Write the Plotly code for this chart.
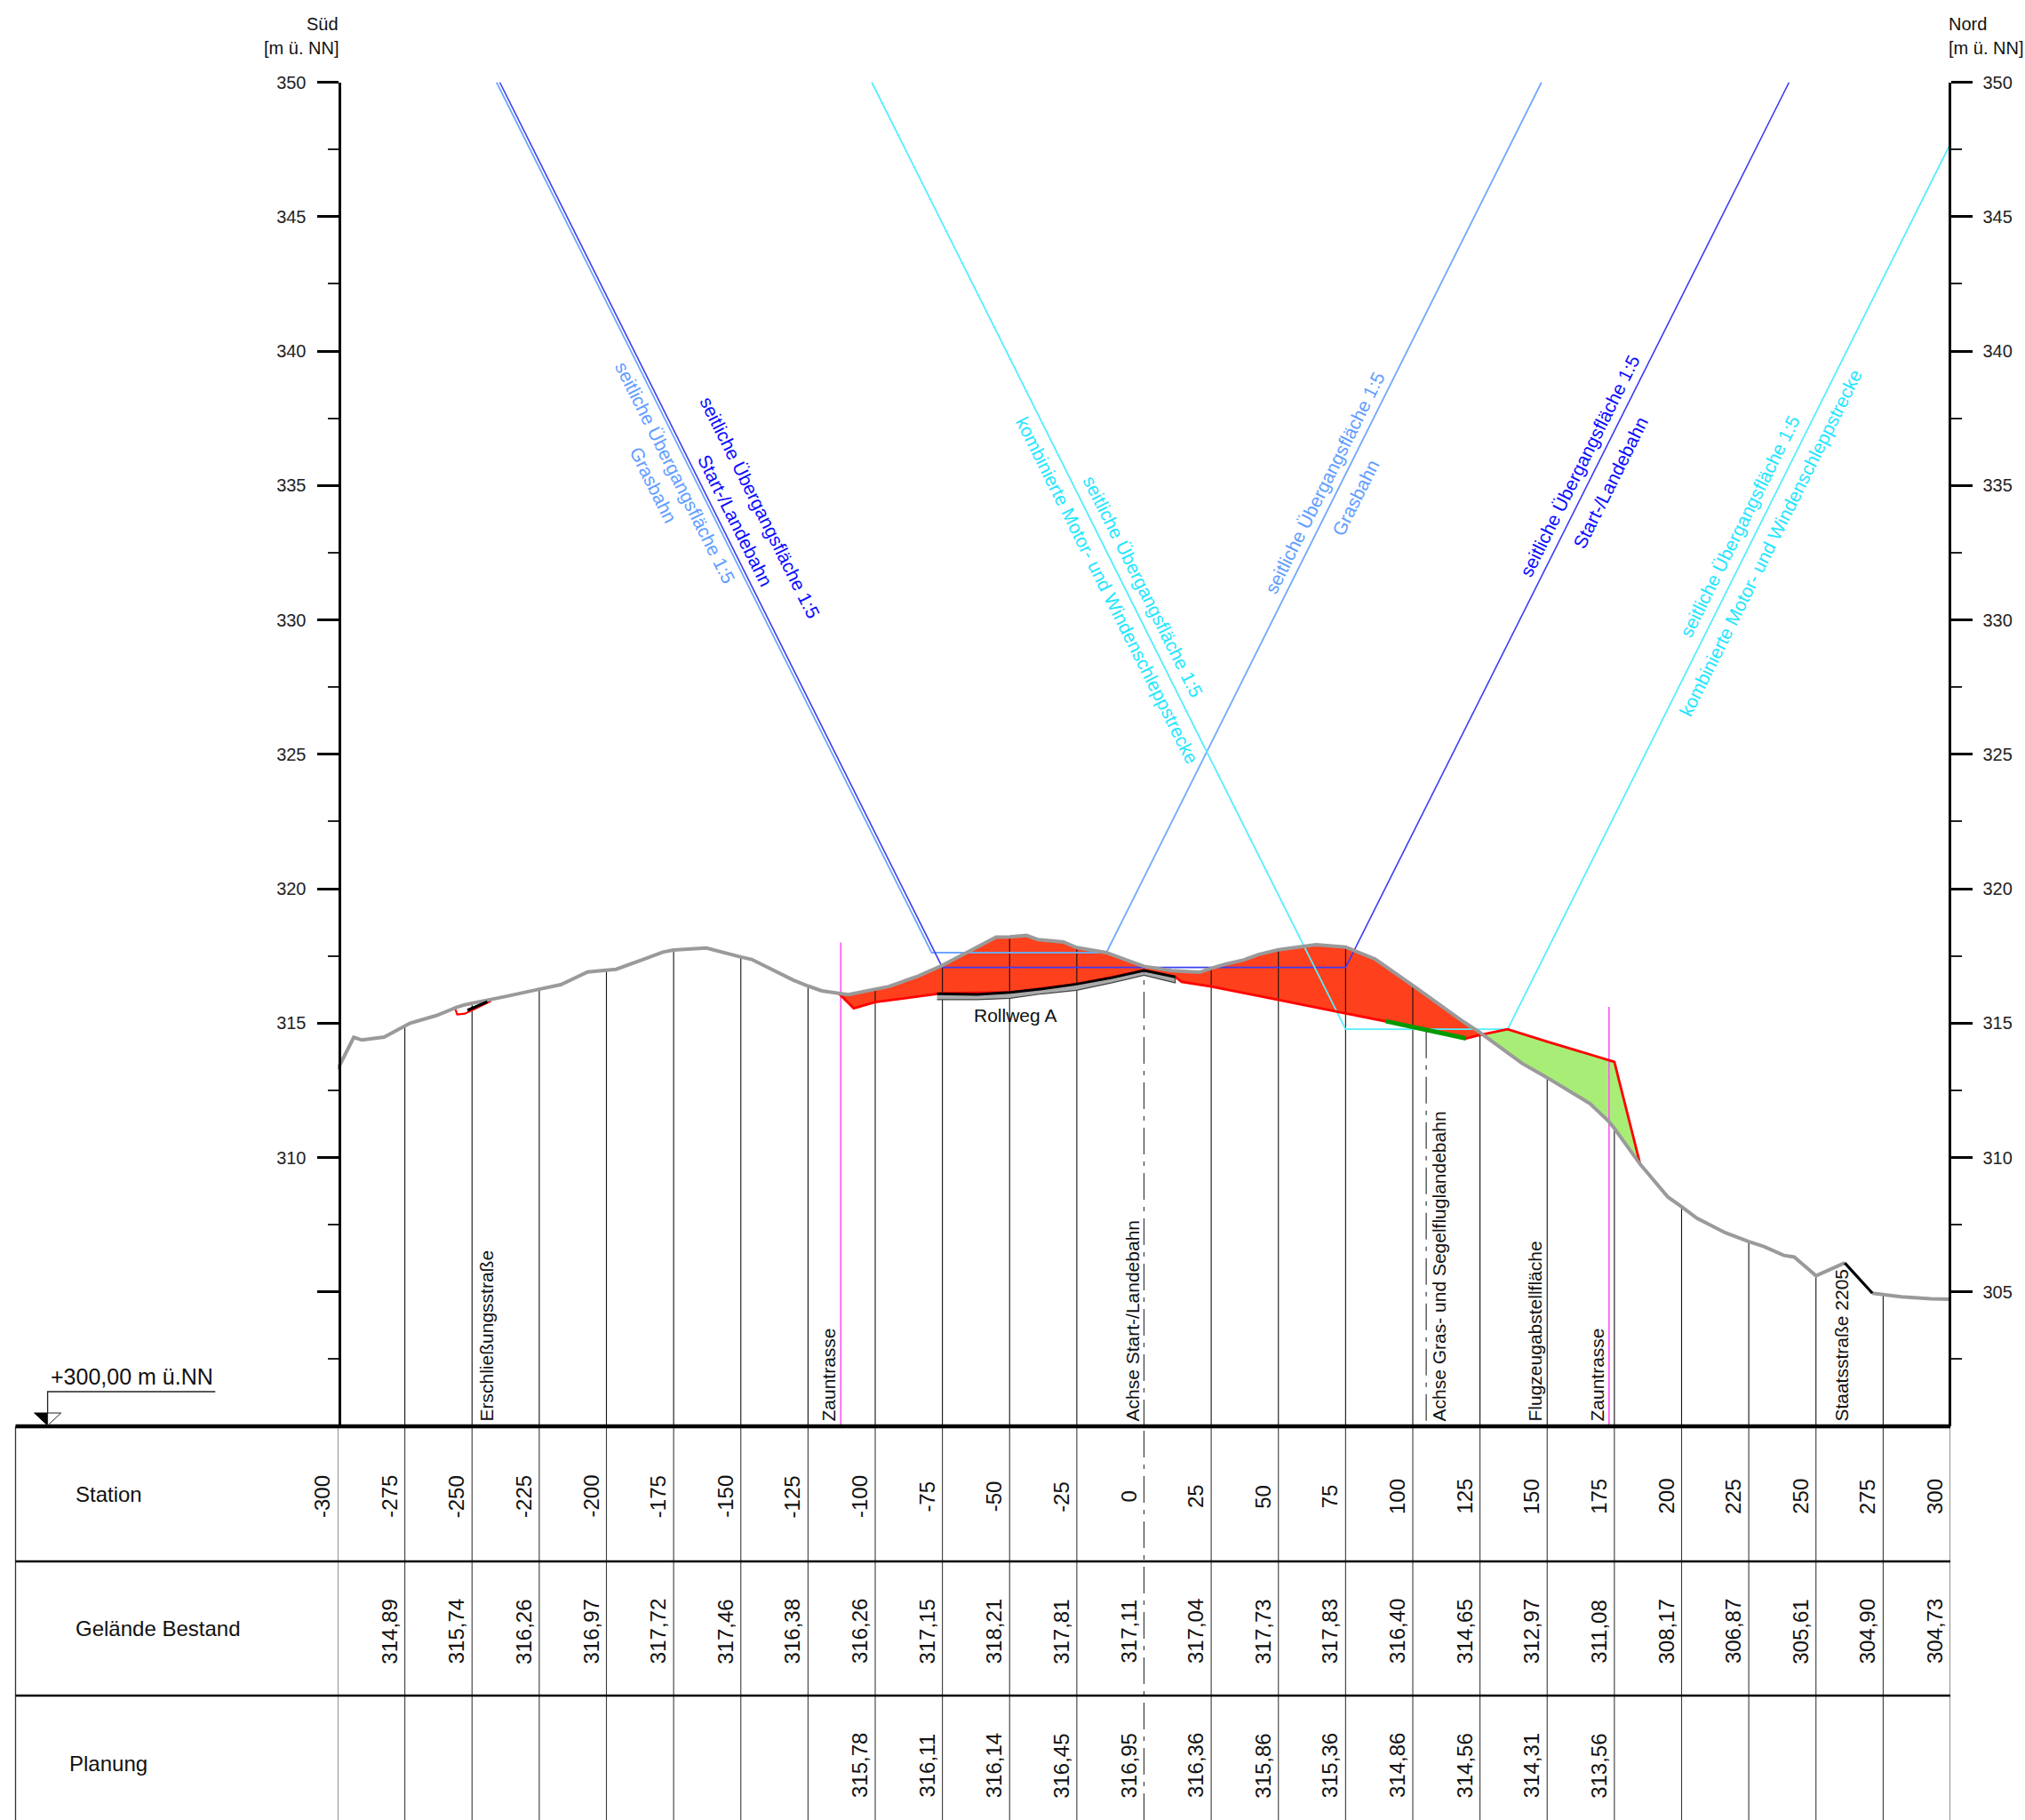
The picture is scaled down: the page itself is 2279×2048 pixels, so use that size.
import plotly.graph_objects as go

W, H = 2279, 2048
AX_L, AX_R, AX_T, AX_B = 380, 2195, 92.5, 1605
FONT = "Liberation Sans"

stations = [-300,-275,-250,-225,-200,-175,-150,-125,-100,-75,-50,-25,0,25,50,75,100,125,150,175,200,225,250,275,300]
station_labels = ["-300","-275","-250","-225","-200","-175","-150","-125","-100","-75","-50","-25","0","25","50","75","100","125","150","175","200","225","250","275","300"]
gelaende_x = [-275,-250,-225,-200,-175,-150,-125,-100,-75,-50,-25,0,25,50,75,100,125,150,175,200,225,250,275,300]
gelaende = [314.89,315.74,316.26,316.97,317.72,317.46,316.38,316.26,317.15,318.21,317.81,317.11,317.04,317.73,317.83,316.40,314.65,312.97,311.08,308.17,306.87,305.61,304.90,304.73]
planung_x = [-100,-75,-50,-25,0,25,50,75,100,125,150,175]
planung = [315.78,316.11,316.14,316.45,316.95,316.36,315.86,315.36,314.86,314.56,314.31,313.56]

terrain_x = [-300,-294,-291,-282.7,-275,-273,-263.3,-255.9,-252.7,-250,-238,-225,-217,-207,-200,-196.4,-186.3,-179,-175,-162.8,-150,-146,-130.5,-125,-119.9,-113.6,-110,-100,-95,-84,-75,-55,-50,-43.7,-39.6,-30,-25,-14,0,10.2,20.7,25,30.6,37.2,42.6,50,64,75,86,100,119,125,140.7,150,166,172.8,175,184.6,194.9,200,205.7,216.3,225,230.6,238,241.9,250,260.7]
terrain_y = [313.28,314.47,314.37,314.48,314.89,315.0,315.28,315.58,315.68,315.74,315.98,316.26,316.43,316.9,316.97,317.0,317.37,317.64,317.72,317.79,317.46,317.37,316.6,316.38,316.2,316.11,316.06,316.26,316.36,316.75,317.15,318.2,318.21,318.26,318.11,318.02,317.81,317.62,317.11,316.95,316.89,317.04,317.2,317.35,317.55,317.73,317.92,317.83,317.38,316.4,315.04,314.65,313.5,312.97,312.0,311.35,311.08,309.75,308.53,308.17,307.74,307.2,306.87,306.69,306.36,306.3,305.6,306.08]
terrain2_x = [271,275,281.8,292.8,300]
terrain2_y = [304.95,304.9,304.82,304.74,304.73]
street_x = [260.7,271]
street_y = [306.08,304.95]

plan_x = [-113.6,-108,-100,-75,-50,-25,0,11.6,14,25,50,75,100,119.8,125,135.3,150,175,184.6]
plan_y = [316.11,315.55,315.78,316.11,316.14,316.45,316.95,316.72,316.53,316.36,315.86,315.36,314.86,314.43,314.56,314.77,314.31,313.56,309.75]

green_x = [90,119.8]
green_y = [315.07,314.43]

road_x = [-77,-62,-49.9,-37.9,-25.1,-11.9,0,11.6]
road_top = [316.09,316.07,316.14,316.27,316.45,316.69,316.96,316.72]
road_bottom = [315.87,315.87,315.92,316.09,316.22,316.5,316.78,316.5]

small_red_x = [-256.4,-255.5,-252.7,-243]
small_red_y = [315.57,315.32,315.35,315.82]
small_black_x = [-251.7,-244.3]
small_black_y = [315.48,315.79]

blue_x = [-239.7,-75,75,240]
blue_y = [350,317.07,317.07,350]
light_x = [-240.9,-79,-14,147.9]
light_y = [350,317.62,317.62,350]
cyan_x = [-101.3,75,135.3,300]
cyan_y = [350,314.77,314.77,347.71]

fence_x = [-112.8,173]
fence_top = [318,315.6]

left_tickvals = [310,315,320,325,330,335,340,345,350,305]
left_ticktext = ["310","315","320","325","330","335","340","345","350",""]
right_tickvals = [305,310,315,320,325,330,335,340,345,350]
right_ticktext = ["305","310","315","320","325","330","335","340","345","350"]
minor_ticks = [302.5,307.5,312.5,317.5,322.5,327.5,332.5,337.5,342.5,347.5]

C_BLUE, C_LIGHT, C_CYAN = "#3c3cf5", "#6fa8ff", "#55eeff"
T_BLUE, T_LIGHT, T_CYAN = "#0a0aff", "#5f9dff", "#1fe6ff"
C_RED_FILL, C_GREEN_FILL = "#ff401c", "#a8ee76"
C_GREY = "#9a9a9a"


def P(py):
    return 1 - py / H


fig = go.Figure()


def line(x, y, color, width, dash=None, yaxis="y"):
    fig.add_trace(go.Scatter(x=x, y=y, mode="lines", yaxis=yaxis, hoverinfo="skip", showlegend=False,
                             line=dict(color=color, width=width, dash=dash, simplify=False)))


def fill(x, y, color):
    fig.add_trace(go.Scatter(x=x, y=y, mode="lines", fill="toself", fillcolor=color, hoverinfo="skip",
                             showlegend=False, line=dict(width=0)))


# cut and fill bodies
red_top = [(a, b) for a, b in zip(terrain_x, terrain_y) if -113.6 <= a <= 125]
red_bot = [(a, b) for a, b in zip(plan_x, plan_y) if -113.6 <= a <= 125]
poly = red_top + red_bot[::-1]
fill([p[0] for p in poly], [p[1] for p in poly], C_RED_FILL)
green_top = [(a, b) for a, b in zip(plan_x, plan_y) if 125 <= a <= 184.6]
green_bot = [(a, b) for a, b in zip(terrain_x, terrain_y) if 125 <= a <= 184.6]
poly = green_top + green_bot[::-1]
fill([p[0] for p in poly], [p[1] for p in poly], C_GREEN_FILL)

# station lines from terrain to the reference level
vx, vy = [], []
for a, b in zip(gelaende_x, gelaende):
    if a in (0, 300):
        continue
    vx += [a, a, None]
    vy += [b, 300, None]
line(vx, vy, "#111111", 1.1)

# surfaces
line(light_x, light_y, C_LIGHT, 1.8)
line(blue_x, blue_y, C_BLUE, 1.6)
line(cyan_x, cyan_y, C_CYAN, 1.8)

# fence and axis lines
for a, b in zip(fence_x, fence_top):
    line([a, a], [b, 300], "#ff55ee", 1.6)
line([105, 105], [314.69, 300], "#444444", 1.3, "30px,8px,5px,8px")

# planning line
line(plan_x, plan_y, "#ff0000", 2.8)
line(green_x, green_y, "#009a00", 5)
line(small_red_x, small_red_y, "#ff0000", 2.2)

# terrain
line(terrain_x, terrain_y, C_GREY, 4)
line(terrain2_x, terrain2_y, C_GREY, 4)
line(street_x, street_y, "#000000", 3.2)
line(small_black_x, small_black_y, "#000000", 3.2)

# taxiway
fig.add_trace(go.Scatter(x=road_x + road_x[::-1], y=road_bottom + road_top[::-1], mode="lines", fill="toself",
                         fillcolor="#aaaaaa", hoverinfo="skip", showlegend=False, line=dict(color="#444444", width=1.2)))
line(road_x, road_top, "#000000", 3)

# right axis carrier
fig.add_trace(go.Scatter(x=[300], y=[300], yaxis="y2", mode="none", hoverinfo="skip", showlegend=False))

shapes = []
# table
for a in stations:
    if a == 0:
        continue
    shapes.append(dict(type="line", xref="x", yref="paper", x0=a, x1=a, y0=P(AX_B), y1=0,
                       line=dict(color="#3a3a3a", width=1.1)))
shapes.append(dict(type="line", xref="x", yref="paper", x0=0, x1=0, y0=0, y1=P(AX_B),
                   line=dict(color="#444444", width=1.3, dash="30px,8px,5px,8px")))
shapes.append(dict(type="line", xref="x", yref="y", x0=0, x1=0, y0=300, y1=316.9,
                   line=dict(color="#444444", width=1.3, dash="30px,8px,5px,8px")))
shapes.append(dict(type="line", xref="paper", yref="paper", x0=17.5 / W, x1=17.5 / W, y0=0, y1=P(AX_B),
                   line=dict(color="#333333", width=1.3)))
for py, wd in [(1757, 2.6), (1908, 2.6), (1605, 4.6)]:
    shapes.append(dict(type="line", xref="paper", yref="paper", x0=17.5 / W, x1=AX_R / W, y0=P(py), y1=P(py),
                       line=dict(color="#000000", width=wd)))
# level mark
shapes.append(dict(type="path", xref="paper", yref="paper", line=dict(color="#222222", width=1.3),
                   path=f"M {53.6/W} {P(1604)} L {53.6/W} {P(1566)} L {242.3/W} {P(1566)}"))
shapes.append(dict(type="path", xref="paper", yref="paper", fillcolor="#000000", line=dict(color="#000000", width=1),
                   path=f"M {53.6/W} {P(1604)} L {38.6/W} {P(1590)} L {53.6/W} {P(1590)} Z"))
shapes.append(dict(type="path", xref="paper", yref="paper", fillcolor="#ffffff", line=dict(color="#222222", width=1),
                   path=f"M {53.6/W} {P(1604)} L {68.7/W} {P(1590)} L {53.6/W} {P(1590)} Z"))

ann = []


def txt(x, y, s, size=21, color="#111111", angle=0, xanchor="center", yanchor="middle", xref="paper", yref="paper", xshift=0):
    ann.append(dict(x=x, y=y, text=s, xref=xref, yref=yref, showarrow=False, textangle=angle, xanchor=xanchor,
                    yanchor=yanchor, xshift=xshift, borderpad=0, borderwidth=0,
                    font=dict(family=FONT, size=size, color=color)))


for a, s in zip(stations, station_labels):
    txt(a, P(1684), s, 24, angle=-90, xref="x", xshift=-18)
for a, v in zip(gelaende_x, gelaende):
    txt(a, P(1836), f"{v:.2f}".replace(".", ","), 24, angle=-90, xref="x", xshift=-18)
for a, v in zip(planung_x, planung):
    txt(a, P(1987), f"{v:.2f}".replace(".", ","), 24, angle=-90, xref="x", xshift=-18)

txt(84.5 / W, P(1681), "Station", 24, xanchor="left")
txt(84.5 / W, P(1832), "Gelände Bestand", 24, xanchor="left")
txt(77.5 / W, P(1984), "Planung", 24, xanchor="left")

txt(57 / W, P(1549), "+300,00 m ü.NN", 25, xanchor="left")
txt(381 / W, P(27), "Süd", 20, xanchor="right")
txt(381 / W, P(54), "[m ü. NN]", 20, xanchor="right")
txt(2193 / W, P(27), "Nord", 20, xanchor="left")
txt(2193 / W, P(54), "[m ü. NN]", 20, xanchor="left")

txt(1142 / W, P(1142), "Rollweg A", 21)

for px, s in [(547, "Erschließungsstraße"), (932, "Zauntrasse"), (1274, "Achse Start-/Landebahn"),
              (1619, "Achse Gras- und Segelfluglandebahn"), (1727, "Flugzeugabstellfläche"),
              (1797, "Zauntrasse"), (2071.6, "Staatsstraße 2205")]:
    txt(px / W, P(1600), s, 21, angle=-90, yanchor="bottom")

ANG = 63.43
for px, py, s, col, ang in [
    (855.3, 571.7, "seitliche Übergangsfläche 1:5", T_BLUE, ANG),
    (827.6, 585, "Start-/Landebahn", T_BLUE, ANG),
    (760.3, 532.3, "seitliche Übergangsfläche 1:5", T_LIGHT, ANG),
    (735, 545.7, "Grasbahn", T_LIGHT, ANG),
    (1287, 660, "seitliche Übergangsfläche 1:5", T_CYAN, ANG),
    (1246.5, 664, "kombinierte Motor- und Windenschleppstrecke", T_CYAN, ANG),
    (1490.6, 543.3, "seitliche Übergangsfläche 1:5", T_LIGHT, -ANG),
    (1525.5, 560.7, "Grasbahn", T_LIGHT, -ANG),
    (1777.6, 524.3, "seitliche Übergangsfläche 1:5", T_BLUE, -ANG),
    (1812, 543, "Start-/Landebahn", T_BLUE, -ANG),
    (1958.4, 591.7, "seitliche Übergangsfläche 1:5", T_CYAN, -ANG),
    (1992, 611, "kombinierte Motor- und Windenschleppstrecke", T_CYAN, -ANG),
]:
    txt(px / W, P(py), s, 21, col, ang)

axis_common = dict(range=[300, 350], domain=[P(AX_B), P(AX_T)], showgrid=False, zeroline=False, showline=True,
                   linecolor="#000000", linewidth=3, ticks="outside", ticklen=24, tickwidth=3, tickcolor="#000000",
                   tickmode="array", ticklabelstandoff=8, automargin=False,
                   tickfont=dict(family=FONT, size=20, color="#222222"),
                   minor=dict(tickmode="array", tickvals=minor_ticks, ticks="outside", ticklen=12, tickwidth=1.5,
                              tickcolor="#222222", showgrid=False))

fig.update_layout(
    width=W, height=H, autosize=False, margin=dict(l=0, r=0, t=0, b=0, autoexpand=False), paper_bgcolor="#ffffff",
    plot_bgcolor="#ffffff", showlegend=False, shapes=shapes, annotations=ann,
    xaxis=dict(range=[-300, 300], domain=[AX_L / W, AX_R / W], showgrid=False, zeroline=False, showline=False,
               showticklabels=False, ticks="", anchor="y", automargin=False),
    yaxis=dict(side="left", anchor="free", position=(AX_L + 1.5) / W, tickvals=left_tickvals, ticktext=left_ticktext, **axis_common),
    yaxis2=dict(side="right", anchor="free", position=(AX_R - 1.5) / W, overlaying="y", tickvals=right_tickvals, ticktext=right_ticktext, **axis_common),
)

fig.write_html("out.html", config=dict(displayModeBar=False), post_script="document.body.style.margin='0';")
